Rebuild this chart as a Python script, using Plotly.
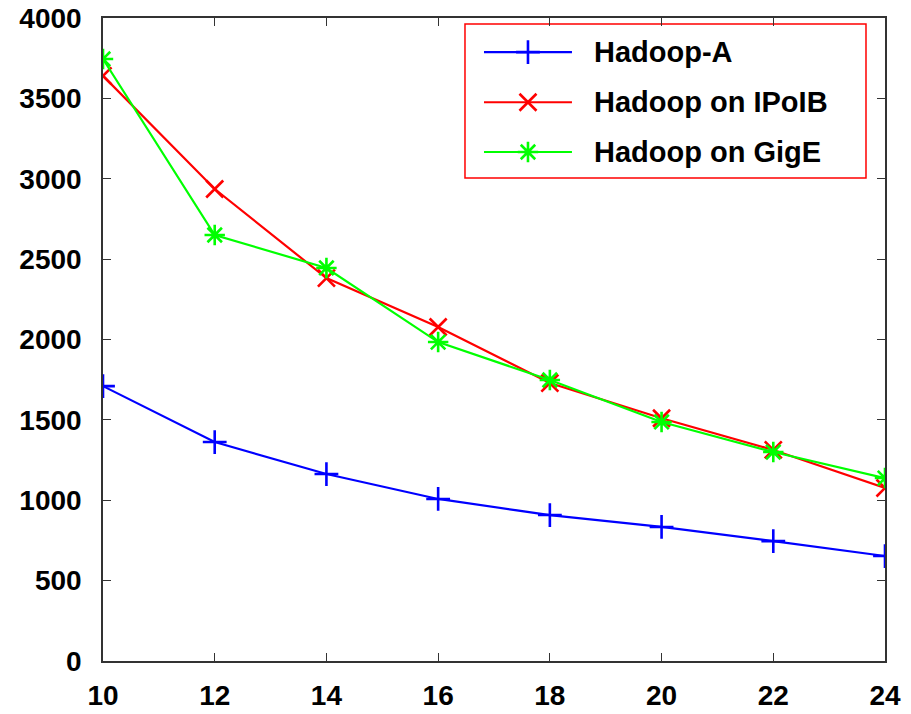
import plotly.graph_objects as go

nodes = [10, 12, 14, 16, 18, 20, 22, 24]
hadoop_a = [1710, 1362, 1163, 1008, 908, 834, 746, 653]
hadoop_ipoib = [3640, 2936, 2382, 2078, 1729, 1510, 1313, 1076]
hadoop_gige = [3745, 2650, 2445, 1984, 1748, 1487, 1300, 1138]

series_names = ["Hadoop-A", "Hadoop on IPoIB", "Hadoop on GigE"]
series_values = [hadoop_a, hadoop_ipoib, hadoop_gige]
series_colors = ["#0000ff", "#ff0000", "#00ff00"]
series_symbols = ["cross-thin-open", "x-thin-open", "asterisk-open"]

FONT = "Liberation Sans, Arial, Helvetica, sans-serif"
MARKER_SIZE = 17

fig = go.Figure()
for name, vals, color, sym in zip(series_names, series_values, series_colors, series_symbols):
    fig.add_trace(go.Scatter(
        x=nodes, y=vals, name=name, mode="lines+markers", showlegend=False,
        line=dict(color=color, width=2.2),
        marker=dict(symbol=sym, size=MARKER_SIZE, color=color, line=dict(color=color, width=2.6)),
    ))

# boxed key in the upper right, drawn in plot-area fractions
box_x0, box_x1, box_y0, box_y1 = 0.4629, 0.9757, 0.7512, 0.9907
key_line_x0, key_line_x1 = 0.4872, 0.5997
key_text_x = 0.6253
key_rows = [0.947, 0.869, 0.7916]

shapes = [dict(type="rect", xref="paper", yref="paper", x0=box_x0, x1=box_x1,
               y0=box_y0, y1=box_y1, line=dict(color="#ff0000", width=1.5),
               fillcolor="white", layer="below")]
annotations = []
for name, color, sym, ry in zip(series_names, series_colors, series_symbols, key_rows):
    shapes.append(dict(type="line", xref="paper", yref="paper", x0=key_line_x0, x1=key_line_x1,
                       y0=ry, y1=ry, line=dict(color=color, width=2.2), layer="below"))
    annotations.append(dict(xref="paper", yref="paper", x=key_text_x, y=ry, text=name,
                            xanchor="left", yanchor="middle", showarrow=False,
                            font=dict(family=FONT, size=29, color="black", weight="bold")))
    fig.add_trace(go.Scatter(
        x=[(key_line_x0 + key_line_x1) / 2], y=[ry], xaxis="x2", yaxis="y2",
        mode="markers", showlegend=False, hoverinfo="skip",
        marker=dict(symbol=sym, size=MARKER_SIZE, color=color, line=dict(color=color, width=2.6)),
    ))

axis_font = dict(family=FONT, size=28, color="black", weight="bold")
common = dict(ticks="inside", ticklen=8, tickcolor="#333", showline=True, linecolor="#333",
              linewidth=1.5, mirror="ticks", showgrid=False, zeroline=False,
              tickfont=axis_font, automargin=False)
fig.update_layout(
    width=911, height=714,
    margin=dict(l=103, r=26, t=18, b=53),
    plot_bgcolor="white", paper_bgcolor="white",
    shapes=shapes, annotations=annotations,
    xaxis=dict(range=[10, 24], tickvals=nodes, ticklabelstandoff=9, **common),
    yaxis=dict(range=[0, 4000], dtick=500, ticklabelstandoff=14, **common),
    xaxis2=dict(overlaying="x", range=[0, 1], visible=False, fixedrange=True),
    yaxis2=dict(overlaying="y", range=[0, 1], visible=False, fixedrange=True),
)
fig.write_html("out.html")
